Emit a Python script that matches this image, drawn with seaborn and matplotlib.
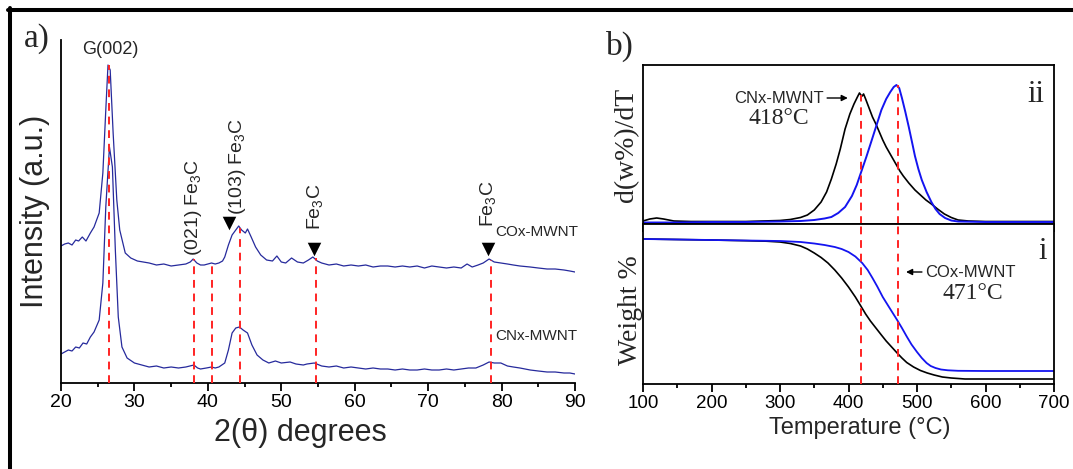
import numpy as np
import pandas as pd
import seaborn as sns
import matplotlib.pyplot as plt
from matplotlib.lines import Line2D
from matplotlib.ticker import MultipleLocator

# ---- a) XRD patterns (intensity in arbitrary units, offset curves) ----
cox_theta = [20, 20.5, 21, 21.5, 22, 22.4, 22.9, 23.4, 24, 24.5,
             25.2, 25.7, 26.1, 26.4, 26.7, 27.1, 27.6, 28.0, 28.75, 29.5,
             30.4, 31.2, 32, 33, 34, 35, 36, 37, 37.6, 38,
             38.5, 39, 39.5, 40, 40.5, 41, 41.5, 42, 42.3, 42.8,
             43.3, 43.8, 44.2, 44.6, 45.1, 45.4, 45.9, 46.5, 47.2, 48,
             48.8, 49.4, 50, 50.6, 51.4, 52.2, 53, 53.7, 54.3, 54.9,
             55.5, 56.5, 57.5, 58.5, 59.5, 60.5, 61.5, 62.5, 63.5, 64.5,
             65.5, 66.5, 67.5, 68.5, 69.5, 70.5, 71.5, 72.5, 73.5, 74.5,
             75.3, 76, 76.8, 77.5, 78.3, 79, 79.9, 80.8, 81.6, 82.5,
             83.9, 85, 86.2, 87.3, 88.5, 89.3, 90]
cox_int = [137, 139, 140, 138, 143, 142, 146, 142, 150, 156,
           170, 210, 273, 318, 313, 250, 183, 153, 130, 125,
           122, 121, 120, 118, 119, 117, 118, 119, 121, 124,
           120, 118, 118, 119, 120, 119, 120, 122, 126, 138,
           148, 153, 157, 153, 150, 154, 146, 136, 128, 123,
           122, 127, 121, 120, 125, 121, 120, 123, 126, 122,
           120, 118, 119, 117, 118, 117, 118, 116, 117, 117,
           116, 117, 116, 117, 115, 117, 116, 115, 116, 115,
           119, 116, 118, 120, 124, 121, 120, 119, 118, 117,
           116, 115, 114, 114, 113, 112, 111]

cnx_theta = [20, 20.5, 21, 21.5, 22, 22.5, 23, 23.5, 24, 24.5,
             25.2, 25.7, 26.1, 26.6, 27.0, 27.4, 27.8, 28.3, 29, 30,
             31, 32, 33, 34, 35, 36, 37, 38.1, 38.6, 39,
             39.8, 40.5, 41, 41.5, 42.3, 42.8, 43.3, 43.8, 44.3, 44.8,
             45.4, 46, 46.7, 47.5, 48.3, 49.2, 50, 51.2, 52, 53,
             53.5, 54.5, 55.5, 56.5, 57.5, 58.5, 59.5, 60.5, 61.5, 62.5,
             63.5, 64.5, 65.5, 66.5, 67.5, 68.5, 69.5, 70.5, 71.5, 72.5,
             73.5, 74.5, 75.5, 76.5, 77.5, 78.3, 79, 79.9, 80.8, 81.6,
             82.5, 83.9, 85, 86.2, 87.3, 88.5, 89.3, 90]
cnx_int = [29, 31, 33, 32, 36, 35, 40, 39, 46, 51,
           63, 100, 176, 236, 216, 133, 66, 36, 25, 20,
           18, 16, 17, 15, 16, 15, 16, 18, 15, 14,
           15, 16, 15, 16, 20, 33, 50, 55, 56, 53,
           50, 38, 28, 23, 20, 22, 20, 21, 19, 18,
           19, 20, 17, 16, 17, 15, 16, 15, 14, 15,
           14, 14, 13, 14, 13, 13, 14, 13, 13, 14,
           13, 14, 15, 15, 18, 21, 20, 20, 17, 16,
           15, 13, 12, 11, 11, 10, 10, 9]

ref_theta = [26.6, 38.1, 40.6, 44.4, 54.7, 78.5]
ref_top = [318, 124, 120, 155, 125, 123]
marker_theta = [42.9, 54.5, 78.2]
marker_int = [160, 134, 134]

# ---- b) TGA / DTG ----
cnx_dtg_t = [100, 110, 120, 130, 145, 170, 200, 250, 300, 315,
             330, 340, 350, 360, 368, 375, 382, 388, 395, 402,
             408, 413, 416, 418, 420, 422, 425, 430, 435, 440,
             445, 450, 455, 460, 465, 470, 475, 480, 488, 497,
             505, 513, 521, 530, 540, 550, 560, 575, 600, 700]
cnx_dtg = [3, 5, 6, 5, 3, 2.5, 2.5, 2.5, 3.5, 4.5,
           6.5, 9, 14, 22, 32, 45, 60, 75, 95, 110,
           120, 127, 131, 129, 128, 130, 125, 116, 107, 100,
           92, 84, 77, 71, 65, 59, 53, 48, 41, 34,
           29, 24, 20, 15, 10, 6.5, 4, 3, 2.5, 2.5]
cox_dtg_t = [100, 150, 200, 250, 300, 330, 350, 365, 375, 385,
             395, 405, 412, 418, 426, 434, 441, 448, 455, 461,
             466, 470, 474, 478, 483, 488, 493, 497, 502, 507,
             514, 521, 527, 533, 541, 550, 560, 600, 700]
cox_dtg = [1.5, 1.5, 2, 2, 2.5, 3, 4, 5.5, 7, 11,
           17, 28, 39, 51, 67, 84, 99, 114, 125, 132,
           137, 139, 136, 126, 112, 97, 81, 68, 55, 44,
           32, 22, 15, 10, 6, 3.5, 2.5, 2, 2]

cnx_tg_t = [100, 150, 200, 250, 280, 300, 315, 330, 340, 350,
            360, 370, 380, 390, 400, 410, 418, 425, 432, 440,
            448, 455, 463, 471, 478, 485, 495, 505, 515, 525,
            537, 550, 570, 600, 700]
cnx_tg = [145, 144.5, 144, 143.3, 142.8, 142, 140.5, 138, 135, 131,
          126.5, 121, 114, 106, 97, 87, 78, 70, 63, 56,
          49, 43, 37, 31, 26, 21.5, 17, 13.5, 11, 9,
          7, 6, 5, 5, 5]
cox_tg_t = [100, 200, 300, 330, 350, 365, 380, 390, 400, 410,
            420, 428, 435, 442, 450, 460, 471, 478, 485, 492,
            500, 507, 514, 520, 527, 535, 545, 560, 600, 700]
cox_tg = [145, 144, 143, 142, 140.5, 139, 137, 135, 132, 127.5,
          121, 114, 106, 97.5, 87, 76, 64, 56, 47.5, 39.5,
          32, 26, 21, 18, 16, 14.5, 13.7, 13.2, 13, 13]

peak_t = [418, 472]
peak_dtg = [129, 139]

sns.set_theme(context="notebook", style="ticks",
              rc={"axes.edgecolor": "black", "xtick.color": "black",
                  "ytick.color": "black", "axes.linewidth": 1.3})
plt.rcParams['font.family'] = ['Liberation Sans', 'DejaVu Sans']
plt.rcParams['mathtext.fontset'] = 'custom'
plt.rcParams['mathtext.rm'] = 'Liberation Sans'
plt.rcParams['mathtext.it'] = 'Liberation Sans:italic'
serif = ['Liberation Serif', 'DejaVu Serif']

W, H = 1073, 469
fig = plt.figure(figsize=(W / 100, H / 100), dpi=100)

XRD_C = '#262a9c'
RED = '#ff2424'
BLUE = '#1414f0'
dash = (0, (4, 3))

# ----- panel a -----
ax_a = fig.add_axes([61 / W, (H - 383) / H, (575 - 61) / W, (383 - 40) / H])
xrd = pd.DataFrame({'theta': cox_theta, 'I': cox_int})
xrd2 = pd.DataFrame({'theta': cnx_theta, 'I': cnx_int})
sns.lineplot(data=xrd, x='theta', y='I', ax=ax_a, color=XRD_C, lw=0.9, estimator=None)
sns.lineplot(data=xrd2, x='theta', y='I', ax=ax_a, color=XRD_C, lw=0.9, estimator=None)
ax_a.vlines(ref_theta, 0, ref_top, colors=RED, linestyles=dash, lw=1.4, zorder=3)
sns.scatterplot(x=marker_theta, y=marker_int, ax=ax_a, marker='v', s=95,
                color='black', edgecolor='black', linewidth=0, zorder=4)

ax_a.set_xlim(20, 90)
ax_a.set_ylim(0, 343)
sns.despine(ax=ax_a)
ax_a.xaxis.set_major_locator(MultipleLocator(10))
ax_a.xaxis.set_minor_locator(MultipleLocator(5))
ax_a.tick_params(axis='x', which='major', direction='out', length=6, width=1.3,
                 labelsize=14, pad=2)
ax_a.tick_params(axis='x', which='minor', direction='out', length=3, width=1.3)
ax_a.tick_params(axis='y', left=False, labelleft=False)
ax_a.set_xlabel('2(θ) degrees', fontsize=22, va='center')
ax_a.xaxis.set_label_coords((300 - 61) / 514, -(433 - 383) / 343)
ax_a.set_ylabel('Intensity (a.u.)', fontsize=22, va='center')
ax_a.yaxis.set_label_coords((35 - 61) / 514, 0.5)

ax_a.text(26.7, 334, 'G(002)', fontsize=13, ha='center', va='center')
ax_a.text(38.0, 127, '(021) Fe$_3$C', fontsize=14, rotation=90, ha='center', va='bottom')
ax_a.text(44.1, 168, '(103) Fe$_3$C', fontsize=14, rotation=90, ha='center', va='bottom')
ax_a.text(54.6, 153, 'Fe$_3$C', fontsize=14, rotation=90, ha='center', va='bottom')
ax_a.text(78.2, 156, 'Fe$_3$C', fontsize=14, rotation=90, ha='center', va='bottom')
ax_a.text(79.1, 151, 'COx-MWNT', fontsize=11, ha='left', va='center')
ax_a.text(79.1, 47, 'CNx-MWNT', fontsize=11, ha='left', va='center')

# ----- panel b -----
bx0, bw = 643 / W, (1054 - 643) / W
ax_ii = fig.add_axes([bx0, (H - 224) / H, bw, (224 - 65) / H])
ax_i = fig.add_axes([bx0, (H - 384) / H, bw, (384 - 224) / H])

sns.lineplot(x=cnx_dtg_t, y=cnx_dtg, ax=ax_ii, color='black', lw=1.2, estimator=None)
sns.lineplot(x=cox_dtg_t, y=cox_dtg, ax=ax_ii, color=BLUE, lw=1.4, estimator=None)
sns.lineplot(x=cnx_tg_t, y=cnx_tg, ax=ax_i, color='black', lw=1.2, estimator=None)
sns.lineplot(x=cox_tg_t, y=cox_tg, ax=ax_i, color=BLUE, lw=1.3, estimator=None)
ax_ii.vlines(peak_t, 0, peak_dtg, colors=RED, linestyles=dash, lw=1.4, zorder=3)
ax_i.vlines(peak_t, 0, 160, colors=RED, linestyles=dash, lw=1.4, zorder=3)

for ax, lim in ((ax_ii, 159), (ax_i, 160)):
    ax.set_xlim(100, 700)
    ax.set_ylim(0, lim)
    ax.xaxis.set_major_locator(MultipleLocator(100))
    ax.xaxis.set_minor_locator(MultipleLocator(50))
    ax.tick_params(axis='x', which='major', direction='out', length=6, width=1.3,
                   labelsize=13.5, pad=2)
    ax.tick_params(axis='x', which='minor', direction='out', length=3, width=1.3)
    ax.tick_params(axis='y', left=False, labelleft=False)
    for s in ax.spines.values():
        s.set_linewidth(1.3)
ax_ii.tick_params(axis='x', labelbottom=False)

ax_ii.set_xlabel('')
ax_ii.set_ylabel('d(w%)/dT', fontsize=20, family=serif, va='center')
ax_ii.yaxis.set_label_coords((627 - 643) / 411, 0.5)
ax_i.set_ylabel('Weight %', fontsize=20, family=serif, va='center')
ax_i.yaxis.set_label_coords((630 - 643) / 411, (384 - 310) / 160)
ax_i.set_xlabel('Temperature (°C)', fontsize=17, va='center')
ax_i.xaxis.set_label_coords((860 - 643) / 411, -(428 - 384) / 160)

arrow = dict(arrowstyle='-|>', color='black', lw=1.0, mutation_scale=9,
             shrinkA=0, shrinkB=0)
ax_ii.annotate('CNx-MWNT', xy=(399, 126), xytext=(364, 126), fontsize=12,
               ha='right', va='center', arrowprops=arrow)
ax_ii.text(298, 106, '418°C', fontsize=17, family=serif, ha='center', va='center')
ax_ii.text(673, 130, 'ii', fontsize=22, family=serif, ha='center', va='center')
ax_i.annotate('COx-MWNT', xy=(484, 112), xytext=(512, 112), fontsize=12,
              ha='left', va='center', arrowprops=arrow)
ax_i.text(582, 91, '471°C', fontsize=17, family=serif, ha='center', va='center')
ax_i.text(683, 133, 'i', fontsize=22, family=serif, ha='center', va='center')

# panel letters and frame
fig.text(36.5 / W, 1 - 39 / H, 'a)', fontsize=24, family=serif, ha='center', va='center')
fig.text(620 / W, 1 - 46 / H, 'b)', fontsize=24, family=serif, ha='center', va='center')
fig.add_artist(Line2D([8 / W, 1], [1 - 10 / H, 1 - 10 / H], color='black', lw=2.9,
                      transform=fig.transFigure))
fig.add_artist(Line2D([10 / W, 10 / W], [0, 1 - 8 / H], color='black', lw=2.9,
                      transform=fig.transFigure))

fig.savefig('out.png', dpi=100)
